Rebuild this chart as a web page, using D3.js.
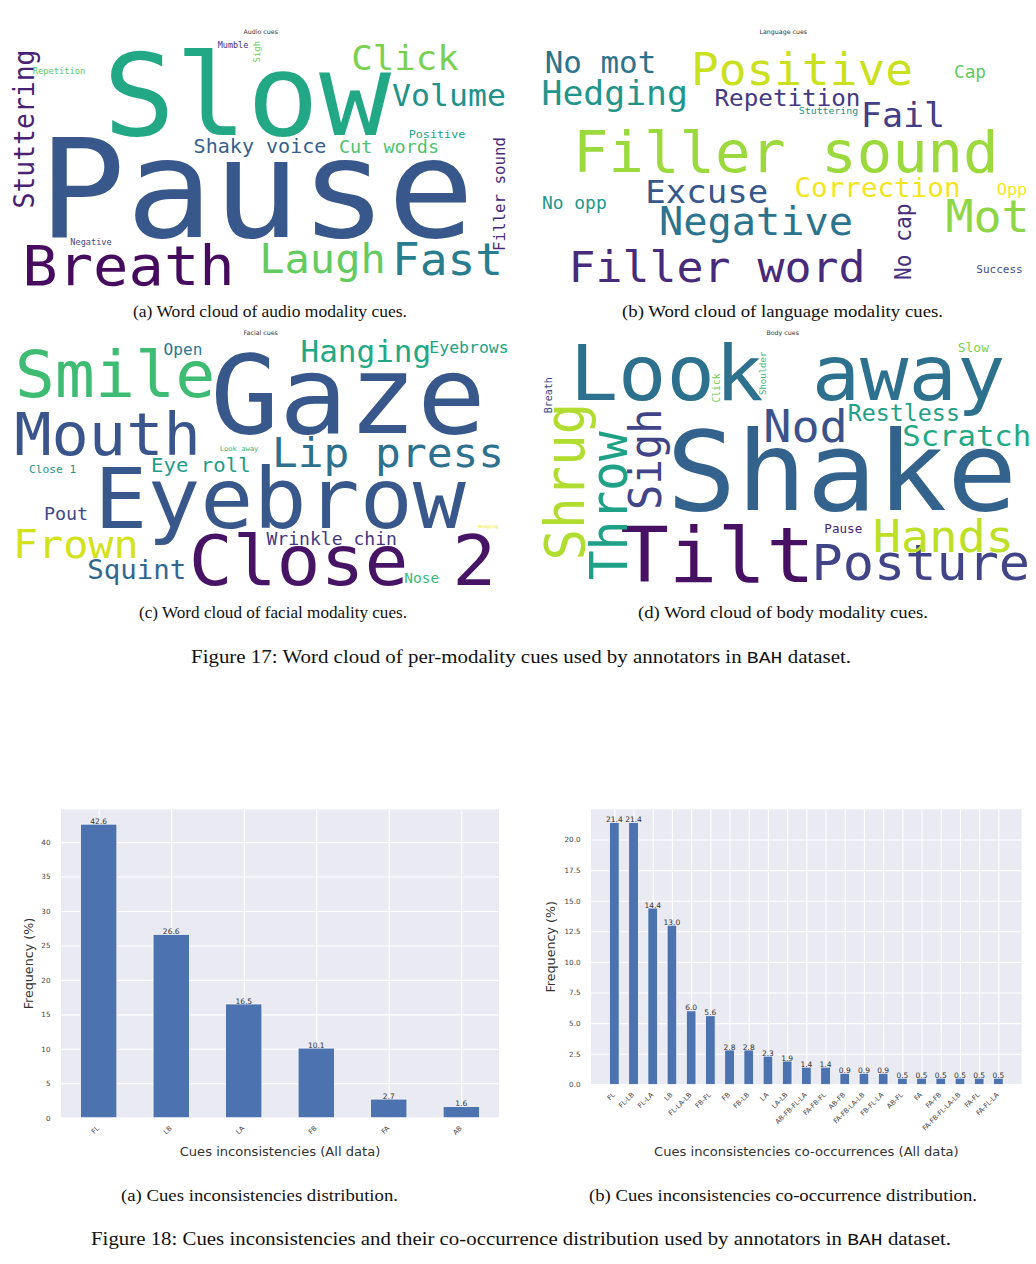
<!DOCTYPE html>
<html><head><meta charset="utf-8">
<script src="https://cdn.jsdelivr.net/npm/d3@7"></script>
<style>body{margin:0;background:#fff}</style>
</head><body>
<svg id="fig" width="1036" height="1264"></svg>
<script>
// ---------------- DATA ----------------
// Word clouds: words, font weights (px), viridis colour position
const audioWords = ["Pause","Slow","Breath","Laugh","Fast","Click","Volume","Stuttering","Shaky voice","Cut words","Filler sound","Positive","Repetition","Negative","Mumble","Sigh"];
const audioSizes = [138,114,56,40,44,34,30,26.4,19.1,17.6,15.8,11.2,8.3,8.2,8.1,8.9];
const audioTone  = [0.27,0.6,0.03,0.76,0.42,0.8,0.5,0.09,0.3,0.72,0.12,0.58,0.74,0.22,0.14,0.78];

const langWords = ["Filler sound","Positive","Filler word","Negative","Mot","Hedging","No mot","Fail","Excuse","Correction","Repetition","No opp","Cap","Opp","Success","Stuttering","No cap"];
const langSizes = [56.1,43.9,42.7,38.4,44.4,33.1,29.4,33.4,32.4,26.3,23.1,17.1,16.9,16.2,10.5,9.4,21.2];
const langTone  = [0.85,0.92,0.12,0.38,0.83,0.52,0.38,0.18,0.27,0.98,0.17,0.53,0.75,0.99,0.22,0.5,0.14];

const faceWords = ["Gaze","Eyebrow","Close 2","Smile","Mouth","Lip press","Frown","Hanging","Squint","Eye roll","Wrinkle chin","Pout","Eyebrows","Open","Nose","Close 1","Look away","Hedging"];
const faceSizes = [109,84,69.5,63.5,59,40.8,39.8,29.5,26.1,19.7,17.2,17.5,15.7,15.4,13.8,10.7,6.8,4.6];
const faceTone  = [0.27,0.27,0.05,0.69,0.26,0.37,0.93,0.6,0.33,0.55,0.16,0.22,0.58,0.4,0.68,0.52,0.66,0.98];

const bodyWords = ["Shake","Look away","Tilt","Posture","Hands","Nod","Scratch","Restless","Pause","Slow","Shrug","Throw","Sigh","Shoulder","Click","Breath"];
const bodySizes = [111,76.6,77,49.4,44.7,44.6,29.1,22.2,12,12.4,52.4,49.5,42.1,9,9.6,10];
const bodyTone  = [0.31,0.37,0.04,0.2,0.9,0.25,0.6,0.56,0.1,0.8,0.88,0.57,0.2,0.67,0.78,0.22];

// Word placement (centre x, baseline y, rotation) produced by the cloud layout
const audioPlace = [[256.5,237,0],[247,135,0],[128.5,285,0],[322.5,273,0],[447.5,275,0],[405,70,0],[449,106,0],[34,129,-90],[260,152.7,0],[389,153,0],[505,194,-90],[437,138,0],[59,74,0],[91,244.5,0],[233,48,0],[260,51.7,-90]];
const langPlace  = [[785.8,171.7,0],[802,85,0],[717,281.7,0],[756,235,0],[987.5,231.7,0],[614.7,105,0],[600.5,73.3,0],[903,126.7,0],[706.7,203.3,0],[877.5,196.7,0],[787.5,106,0],[574.3,209.3,0],[970,78.3,0],[1012,195,0],[999.5,273.3,0],[828.5,114.3,0],[911,241.7,-90]];
const facePlace  = [[348,433.3,0],[280,528.3,0],[342.5,585,0],[115,396.7,0],[107.5,455,0],[388,466.7,0],[75.8,558.3,0],[365.8,361.7,0],[136.7,579,0],[200.8,471.7,0],[331.7,545,0],[66,520,0],[469,352.7,0],[183,355,0],[421.7,583.3,0],[52.7,473.3,0],[239,451,0],[488.3,528.3,0]];
const bodyPlace  = [[841.7,510,0],[787.5,400,0],[717.5,581.7,0],[920.8,580,0],[943.3,551.7,0],[805.5,441.7,0],[966.7,445.7,0],[903.8,420.7,0],[843.3,533.3,0],[973.3,351.7,0],[584,481.7,-90],[627,505.8,-90],[661,459.2,-90],[765.5,373.3,-90],[719.5,388,-90],[551.5,395.3,-90]];

const cloudTitles = ["Audio cues","Language cues","Facial cues","Body cues"];

// Bar charts
const incCats = ["FL","LB","LA","FB","FA","AB"];
const incVals = [42.6,26.6,16.5,10.1,2.7,1.6];
const incTicks = [0,5,10,15,20,25,30,35,40];

const coCats = ["FL","FL-LB","FL-LA","LB","FL-LA-LB","FB-FL","FB","FB-LB","LA","LA-LB","AB-FB-FL-LA","FA-FB-FL","AB-FB","FA-FB-LA-LB","FB-FL-LA","AB-FL","FA","FA-FB","FA-FB-FL-LA-LB","FA-FL","FA-FL-LA"];
const coVals = [21.4,21.4,14.4,13.0,6.0,5.6,2.8,2.8,2.3,1.9,1.4,1.4,0.9,0.9,0.9,0.5,0.5,0.5,0.5,0.5,0.5];
const coTicks = [0,2.5,5,7.5,10,12.5,15,17.5,20];

// ---------------- DRAW ----------------
const svg = d3.select("#fig");
svg.append("rect").attr("width",1036).attr("height",1264).attr("fill","#fff");

const MONO = "'DejaVu Sans Mono', monospace";
const SANS = "'DejaVu Sans', sans-serif";
const SERIF = "'Liberation Serif', 'Times New Roman', serif";
const STRETCH = 1.05;

function drawCloud(words, sizes, tones, place) {
  const g = svg.append("g");
  g.selectAll("text").data(words).join("text")
    .attr("transform",(d,i)=>`translate(${place[i][0]},${place[i][1]}) scale(${STRETCH},1) rotate(${place[i][2]})`)
    .attr("text-anchor","middle")
    .attr("font-family",MONO)
    .attr("font-size",(d,i)=>sizes[i])
    .attr("fill",(d,i)=>d3.interpolateViridis(tones[i]))
    .text(d=>d);
}
drawCloud(audioWords,audioSizes,audioTone,audioPlace);
drawCloud(langWords,langSizes,langTone,langPlace);
drawCloud(faceWords,faceSizes,faceTone,facePlace);
drawCloud(bodyWords,bodySizes,bodyTone,bodyPlace);

const titlePos = [[260.7,33.5],[783.3,33.5],[260.7,335],[782.7,335]];
svg.selectAll("text.ct").data(cloudTitles).join("text").attr("class","ct")
  .attr("x",(d,i)=>titlePos[i][0]).attr("y",(d,i)=>titlePos[i][1])
  .attr("text-anchor","middle").attr("font-family",SANS).attr("font-size",6.3)
  .attr("fill","#333").text(d=>d);

function barChart(cats, vals, ticks, fmtTick, box, xpad, xlabel, ylabX) {
  const n = cats.length;
  const g = svg.append("g");
  const x = d3.scaleLinear().domain([-xpad, n-1+xpad]).range([box.x0, box.x1]);
  const y = d3.scaleLinear().domain([0, d3.max(vals)*1.05]).range([box.y1, box.y0]);
  const step = x(1)-x(0);
  g.append("rect").attr("x",box.x0).attr("y",box.y0)
    .attr("width",box.x1-box.x0).attr("height",box.y1-box.y0).attr("fill","#EAEAF2");
  const gy = g.append("g").attr("transform",`translate(${box.x0},0)`)
    .call(d3.axisLeft(y).tickValues(ticks).tickSize(-(box.x1-box.x0)).tickFormat(fmtTick).tickPadding(10.5));
  gy.select(".domain").remove();
  gy.selectAll(".tick line").attr("stroke","#fff").attr("stroke-width",1.1);
  gy.selectAll(".tick text").attr("font-family",SANS).attr("font-size",7.2).attr("fill","#444");
  const gx = g.append("g").attr("transform",`translate(0,${box.y1})`)
    .call(d3.axisBottom(x).tickValues(d3.range(n)).tickSize(-(box.y1-box.y0)).tickFormat(""));
  gx.select(".domain").remove();
  gx.selectAll(".tick line").attr("stroke","#fff").attr("stroke-width",1.1);
  const bw = 0.5*step;
  g.selectAll("rect.bar").data(vals).join("rect").attr("class","bar")
    .attr("x",(d,i)=>x(i)-bw/2).attr("width",bw)
    .attr("y",d=>y(d)).attr("height",d=>y(0)-y(d))
    .attr("fill","#4C72B0").attr("stroke","#fff").attr("stroke-width",0.7);
  g.selectAll("text.val").data(vals).join("text").attr("class","val")
    .attr("x",(d,i)=>x(i)).attr("y",d=>y(d)-0.4)
    .attr("text-anchor","middle").attr("font-family",SANS).attr("font-size",7.5)
    .attr("fill","#333").text(d=>d3.format(".1f")(d));
  g.selectAll("text.cat").data(cats).join("text").attr("class","cat")
    .attr("transform",(d,i)=>`translate(${x(i)+1},${box.y1+11}) rotate(-45)`)
    .attr("text-anchor","end").attr("font-family",SANS).attr("font-size",6.8)
    .attr("fill","#444").text(d=>d);
  g.append("text").attr("x",(box.x0+box.x1)/2).attr("y",1155.5)
    .attr("text-anchor","middle").attr("font-family",SANS).attr("font-size",13.1)
    .attr("fill","#333").text(xlabel);
  g.append("text").attr("transform",`translate(${ylabX},${(box.y0+box.y1)/2}) rotate(-90)`)
    .attr("text-anchor","middle").attr("font-family",SANS).attr("font-size",12.7)
    .attr("fill","#333").text("Frequency (%)");
}
barChart(incCats, incVals, incTicks, d3.format("d"), {x0:61,x1:499,y0:809.5,y1:1117.7}, 0.52, "Cues inconsistencies (All data)", 32.5);
barChart(coCats, coVals, coTicks, d3.format(".1f"), {x0:591,x1:1021.7,y0:809.3,y1:1084.3}, 1.215, "Cues inconsistencies co-occurrences (All data)", 555);

// captions
const caps = [
  {t:"(a) Word cloud of audio modality cues.", x:270, y:317, w:274},
  {t:"(b) Word cloud of language modality cues.", x:782.5, y:317, w:321},
  {t:"(c) Word cloud of facial modality cues.", x:273, y:618, w:268},
  {t:"(d) Word cloud of body modality cues.", x:783, y:618, w:290},
  {t:"(a) Cues inconsistencies distribution.", x:259.5, y:1201, w:277},
  {t:"(b) Cues inconsistencies co-occurrence distribution.", x:783, y:1201, w:388}
];
svg.selectAll("text.cap").data(caps).join("text").attr("class","cap")
  .attr("x",d=>d.x).attr("y",d=>d.y).attr("text-anchor","middle")
  .attr("font-family",SERIF).attr("font-size",17).attr("fill","#111")
  .attr("textLength",d=>d.w).attr("lengthAdjust","spacingAndGlyphs").text(d=>d.t);

function figCap(pre, post, x, y, w) {
  const t = svg.append("text").attr("x",x).attr("y",y).attr("text-anchor","middle")
    .attr("font-family",SERIF).attr("font-size",18).attr("fill","#111")
    .attr("textLength",w).attr("lengthAdjust","spacingAndGlyphs");
  t.append("tspan").text(pre);
  t.append("tspan").attr("font-family","'Liberation Mono', monospace").attr("font-size",17).text("BAH");
  t.append("tspan").text(post);
}
figCap("Figure 17: Word cloud of per-modality cues used by annotators in ", " dataset.", 521, 663, 660);
figCap("Figure 18: Cues inconsistencies and their co-occurrence distribution used by annotators in ", " dataset.", 521, 1245, 860);
</script>
</body></html>
